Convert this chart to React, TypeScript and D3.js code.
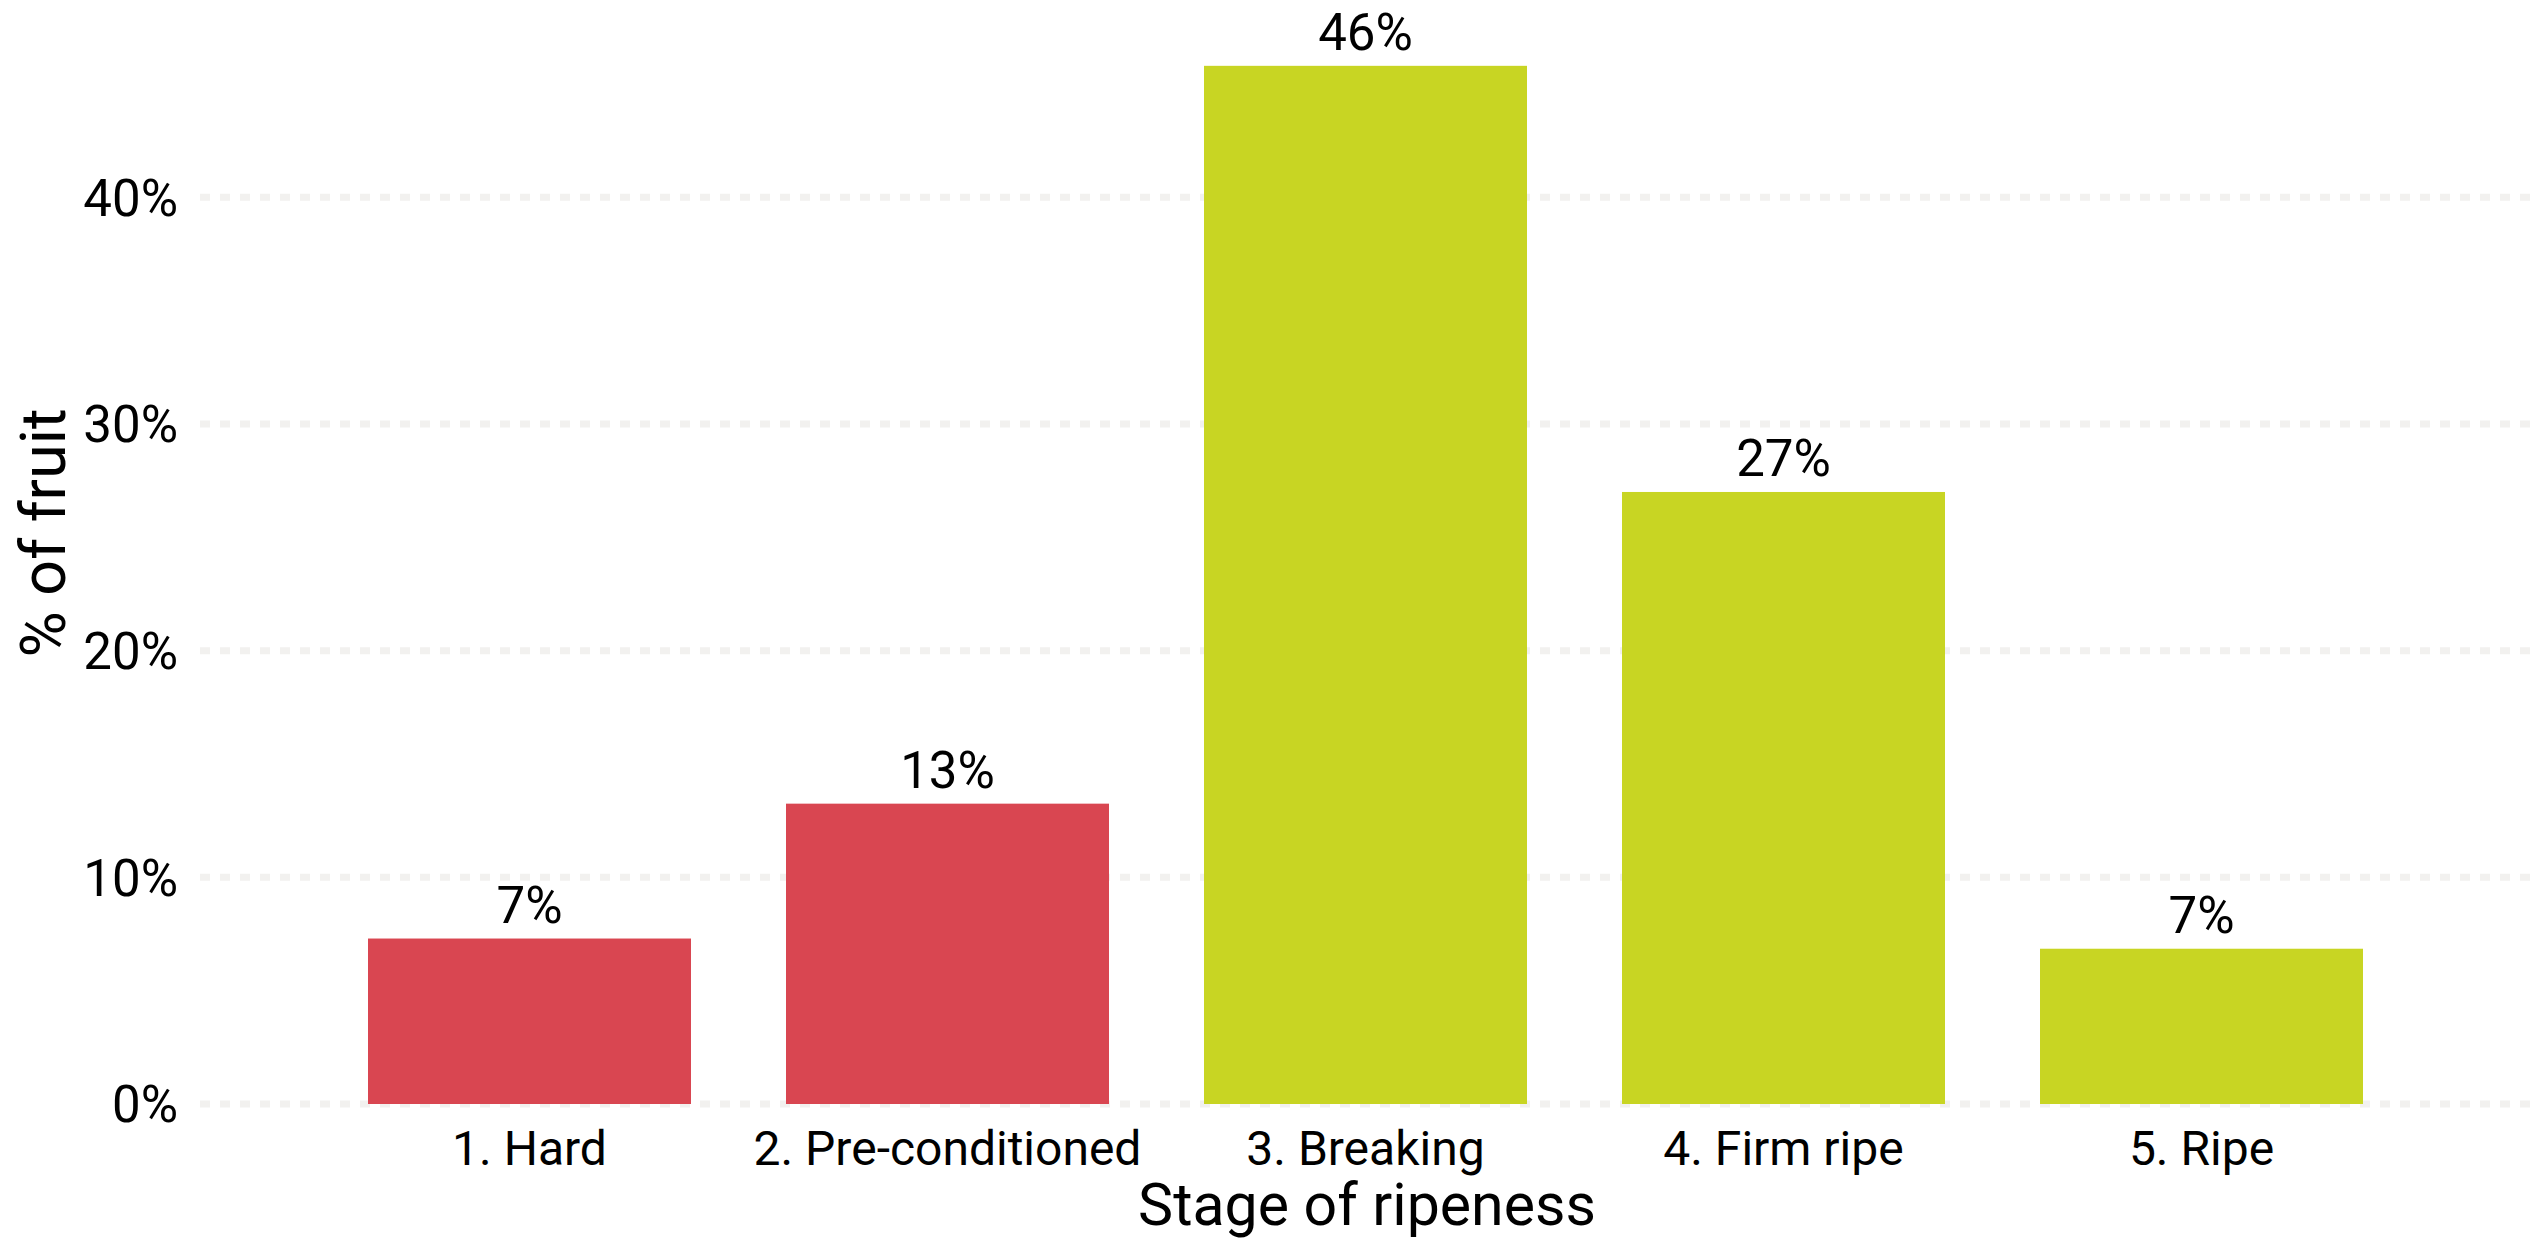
import React from "react";
import * as d3 from "d3";

const categories = ["1. Hard", "2. Pre-conditioned", "3. Breaking", "4. Firm ripe", "5. Ripe"];
const values = [7.3, 13.25, 45.8, 27.0, 6.85];
const groups = ["unripe", "unripe", "ripe", "ripe", "ripe"];
const yTicks = [0, 10, 20, 30, 40];
const xTitle = "Stage of ripeness";
const yTitle = "% of fruit";

const W = 2541;
const H = 1240;
const FONT = "Roboto, 'Noto Sans', sans-serif";

export default function App() {
  const x = d3
    .scaleBand<string>()
    .domain(categories)
    .range([320.5, 2410.5])
    .paddingInner(0.2273)
    .paddingOuter(0.11365);
  const y = d3.scaleLinear().domain([0, 40]).range([1104, 197.3]);
  const color = d3.scaleOrdinal<string, string>().domain(["unripe", "ripe"]).range(["#D94651", "#C8D523"]);
  const gridX0 = 200;
  const gridX1 = 2531;

  return (
    <svg
      width={W}
      height={H}
      style={{ position: "absolute", left: 0, top: 0, background: "#fff" }}
      fontFamily={FONT}
    >
      <rect x={0} y={0} width={W} height={H} fill="#fff" />
      {yTicks.map((t) => (
        <g key={t}>
          <line
            x1={gridX0}
            x2={gridX1}
            y1={y(t)}
            y2={y(t)}
            stroke="#F2F1EF"
            strokeWidth={7}
            strokeDasharray="10 10"
          />
          <text x={178} y={y(t)} dy="0.36em" textAnchor="end" fontSize={51} fill="#000">
            {d3.format(".0%")(t / 100)}
          </text>
        </g>
      ))}
      {categories.map((c, i) => (
        <g key={c}>
          <rect
            x={x(c)}
            y={y(values[i])}
            width={x.bandwidth()}
            height={y(0) - y(values[i])}
            fill={color(groups[i])}
          />
          <text
            x={(x(c) as number) + x.bandwidth() / 2}
            y={y(values[i]) - 16}
            textAnchor="middle"
            fontSize={51}
            fill="#000"
          >
            {Math.round(values[i]) + "%"}
          </text>
          <text
            x={(x(c) as number) + x.bandwidth() / 2}
            y={1165}
            textAnchor="middle"
            fontSize={48}
            fill="#000"
          >
            {c}
          </text>
        </g>
      ))}
      <text x={1367} y={1225} textAnchor="middle" fontSize={59} fill="#000">
        {xTitle}
      </text>
      <text
        transform={`translate(65, 533) rotate(-90)`}
        textAnchor="middle"
        fontSize={63}
        fill="#000"
      >
        {yTitle}
      </text>
    </svg>
  );
}
